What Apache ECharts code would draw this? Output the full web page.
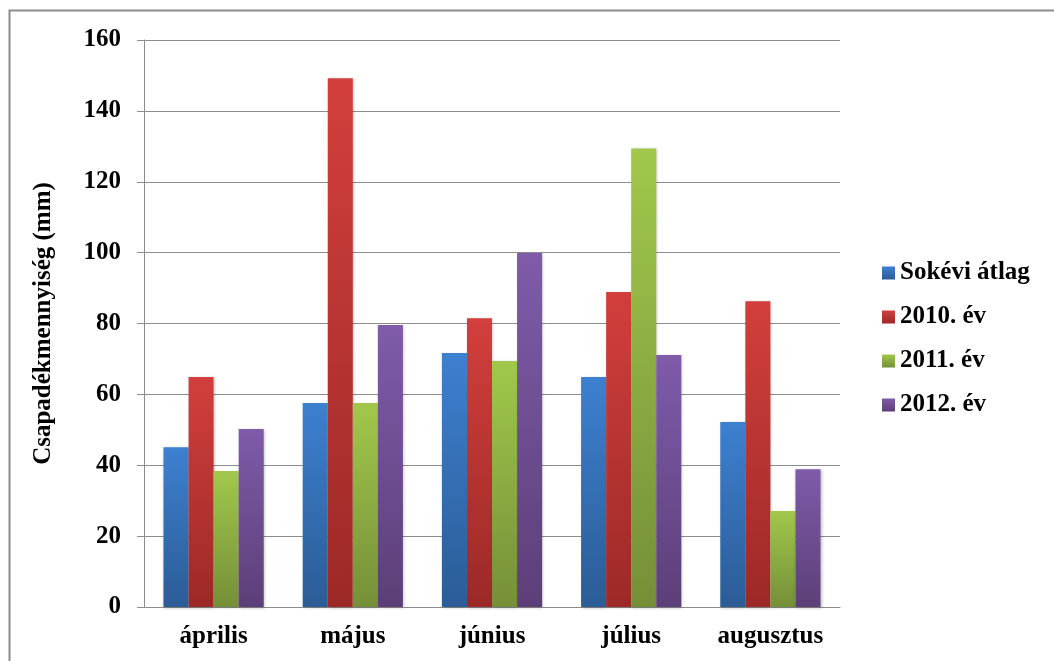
<!DOCTYPE html>
<html>
<head>
<meta charset="utf-8">
<script src="https://cdn.jsdelivr.net/npm/echarts@6/dist/echarts.min.js"></script>
<style>
  html, body { margin: 0; padding: 0; background: #fff; }
  #chart { width: 1054px; height: 661px; }
</style>
</head>
<body>
<div id="chart"></div>
<script>
// Monthly precipitation (mm)
const months = ['április', 'május', 'június', 'július', 'augusztus'];
const seriesNames = ['Sokévi átlag', '2010. év', '2011. év', '2012. év'];
const longTermAvg = [45.1, 57.6, 71.7, 64.9, 52.2];
const year2010 = [64.9, 149.2, 81.5, 88.9, 86.3];
const year2011 = [38.4, 57.6, 69.4, 129.4, 27.1];
const year2012 = [50.2, 79.6, 99.9, 71.1, 38.9];
const yTicks = [0, 20, 40, 60, 80, 100, 120, 140, 160];

const seriesData = [longTermAvg, year2010, year2011, year2012];
// top / bottom shades of each bar gradient
const shades = [
  ['#3d80d0', '#2b5c96'],
  ['#d23f3c', '#9c2927'],
  ['#a1c84b', '#758f38'],
  ['#7f5ba9', '#5c3f78']
];
const font = '"Liberation Serif", "Times New Roman", serif';

const chart = echarts.init(document.getElementById('chart'), null, { renderer: 'canvas' });
chart.setOption({
  animation: false,
  backgroundColor: '#fff',
  graphic: [{
    type: 'rect',
    shape: { x: 9.5, y: 10.5, width: 1060, height: 700 },
    style: { fill: 'none', stroke: '#8c8c8c', lineWidth: 2 },
    silent: true,
    z: -1
  }],
  grid: { left: 144, top: 40, right: 214, bottom: 54 },
  legend: {
    orient: 'vertical',
    left: 882,
    top: 258,
    padding: 0,
    itemWidth: 13,
    itemHeight: 13,
    itemGap: 14,
    icon: 'rect',
    textStyle: {
      fontFamily: font, fontWeight: 'bold', fontSize: 25, lineHeight: 30,
      color: '#000'
    },
    data: seriesNames
  },
  xAxis: {
    type: 'category',
    data: months,
    axisLine: { lineStyle: { color: '#8c8c8c', width: 1 } },
    axisTick: { show: false },
    axisLabel: { fontFamily: font, fontWeight: 'bold', fontSize: 25, color: '#000', margin: 17 }
  },
  yAxis: {
    type: 'value',
    min: 0,
    max: 160,
    interval: 20,
    name: 'Csapadékmennyiség (mm)',
    nameLocation: 'middle',
    nameGap: 88,
    nameRotate: 90,
    nameTextStyle: { fontFamily: font, fontWeight: 'bold', fontSize: 25, color: '#000' },
    axisLine: { show: true, lineStyle: { color: '#8c8c8c', width: 1 } },
    axisTick: { show: true, length: 7, lineStyle: { color: '#8c8c8c' } },
    axisLabel: {
      fontFamily: font, fontWeight: 'bold', fontSize: 25, color: '#000', margin: 23,
      formatter: v => (yTicks.includes(v) ? String(v) : '')
    },
    splitLine: { lineStyle: { color: '#8c8c8c', width: 1 } }
  },
  series: seriesData.map((d, i) => ({
    name: seriesNames[i],
    type: 'bar',
    data: d,
    barGap: '0%',
    barCategoryGap: '28%',
    itemStyle: {
      color: new echarts.graphic.LinearGradient(0, 0, 0, 1, [
        { offset: 0, color: shades[i][0] },
        { offset: 1, color: shades[i][1] }
      ]),
      shadowColor: 'rgba(0,0,0,0.25)',
      shadowBlur: 3,
      shadowOffsetX: 1,
      shadowOffsetY: 1
    }
  }))
});
</script>
</body>
</html>
